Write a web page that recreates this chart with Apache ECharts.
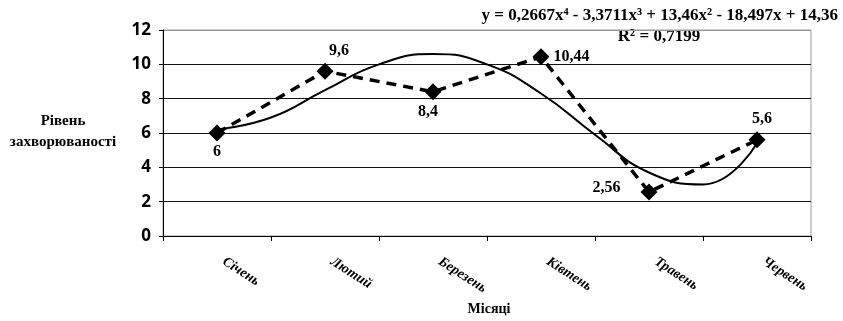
<!DOCTYPE html>
<html><head><meta charset="utf-8">
<script src="https://cdn.jsdelivr.net/npm/echarts@6/dist/echarts.min.js"></script>
<style>html,body{margin:0;padding:0;background:#fff}#c{width:843px;height:321px}</style>
</head><body><div id="c"></div>
<script>
const categories = ['Січень','Лютий','Березень','Ківтень','Травень','Червень'];
const values = [6, 9.6, 8.4, 10.44, 2.56, 5.6];
const yTicks = [0, 2, 4, 6, 8, 10, 12];
// trend curve values at half-month steps
const trendX = [1, 1.5, 2, 2.5, 3, 3.5, 4, 4.5, 5, 5.5, 6];
const trendY = [6.2, 6.9, 8.5, 10.0, 10.6, 10.0, 8.3, 5.9, 3.7, 3.0, 5.4];
const equation = 'y = 0,2667x\u2074 - 3,3711x\u00B3 + 13,46x\u00B2 - 18,497x + 14,36';
const rSquared = 'R\u00B2 = 0,7199';
const yName = ['Рівень', 'захворюваності'];
const xName = 'Місяці';

const labelPos = [
  {position:'bottom', distance:2},
  {position:'top', distance:4, offset:[14,0]},
  {position:'bottom', distance:4, offset:[-5,0]},
  {position:'right', distance:4},
  {position:'left', distance:20, offset:[0,-4]},
  {position:'top', distance:5, offset:[5,0]}
];
const serif = '"Liberation Serif","Times New Roman",serif';
const chart = echarts.init(document.getElementById('c'));
chart.setOption({
  animation:false,
  grid:{left:163, right:32, top:30, bottom:85, show:true, borderColor:'#999', borderWidth:1},
  xAxis:[{
    type:'category', data:categories, boundaryGap:true,
    axisLine:{lineStyle:{color:'#000', width:1}},
    axisTick:{show:true, length:5, alignWithLabel:false, lineStyle:{color:'#000'}},
    axisLabel:{rotate:-33, margin:20, padding:[0,0,0,8], fontFamily:serif, fontWeight:'bold', fontStyle:'italic', fontSize:14, color:'#000'}
  },{
    type:'value', min:0.5, max:6.5, show:false
  }],
  yAxis:{
    type:'value', min:0, max:12, interval:2,
    axisLine:{show:true, lineStyle:{color:'#000', width:1}},
    axisTick:{show:true, length:4, lineStyle:{color:'#000'}},
    axisLabel:{fontFamily:'"Open Sans",sans-serif', fontWeight:'bold', fontSize:17, color:'#000', margin:12,
      formatter:v => yTicks.includes(v) ? String(v) : ''},
    splitLine:{show:true, lineStyle:{color:['#111','#111','#111','#111','#111','#111','#999'], width:1}}
  },
  series:[{
    type:'line', xAxisIndex:0,
    symbol:'diamond', symbolSize:17,
    itemStyle:{color:'#000'},
    lineStyle:{color:'#000', width:3.5, type:[10,7]},
    label:{show:true, fontFamily:serif, fontWeight:'bold', fontSize:16, color:'#000',
      formatter:p => String(p.value).replace('.', ',')},
    data: values.map((v,i)=>({value:v, label:labelPos[i]})),
    z:3
  },{
    type:'line', xAxisIndex:1, smooth:0.5, showSymbol:false, symbol:'none',
    data: trendX.map((x,i)=>[x, trendY[i]]),
    lineStyle:{color:'#000', width:2}, z:2
  }],
  graphic:[
    {type:'text', x:63, y:121, style:{text:yName[0], fontFamily:serif, fontWeight:'bold', fontSize:15, fill:'#000', align:'center', verticalAlign:'middle'}},
    {type:'text', x:63, y:142, style:{text:yName[1], fontFamily:serif, fontWeight:'bold', fontSize:15, fill:'#000', align:'center', verticalAlign:'middle'}},
    {type:'text', x:489, y:309, style:{text:xName, fontFamily:serif, fontWeight:'bold', fontSize:14, fill:'#000', align:'center', verticalAlign:'middle'}},
    {type:'text', x:838, y:16, style:{text:equation, fontFamily:serif, fontWeight:'bold', fontSize:17, fill:'#000', align:'right', verticalAlign:'middle'}},
    {type:'text', x:659, y:37, style:{text:rSquared, fontFamily:serif, fontWeight:'bold', fontSize:17, fill:'#000', align:'center', verticalAlign:'middle'}}
  ]
});
</script></body></html>
